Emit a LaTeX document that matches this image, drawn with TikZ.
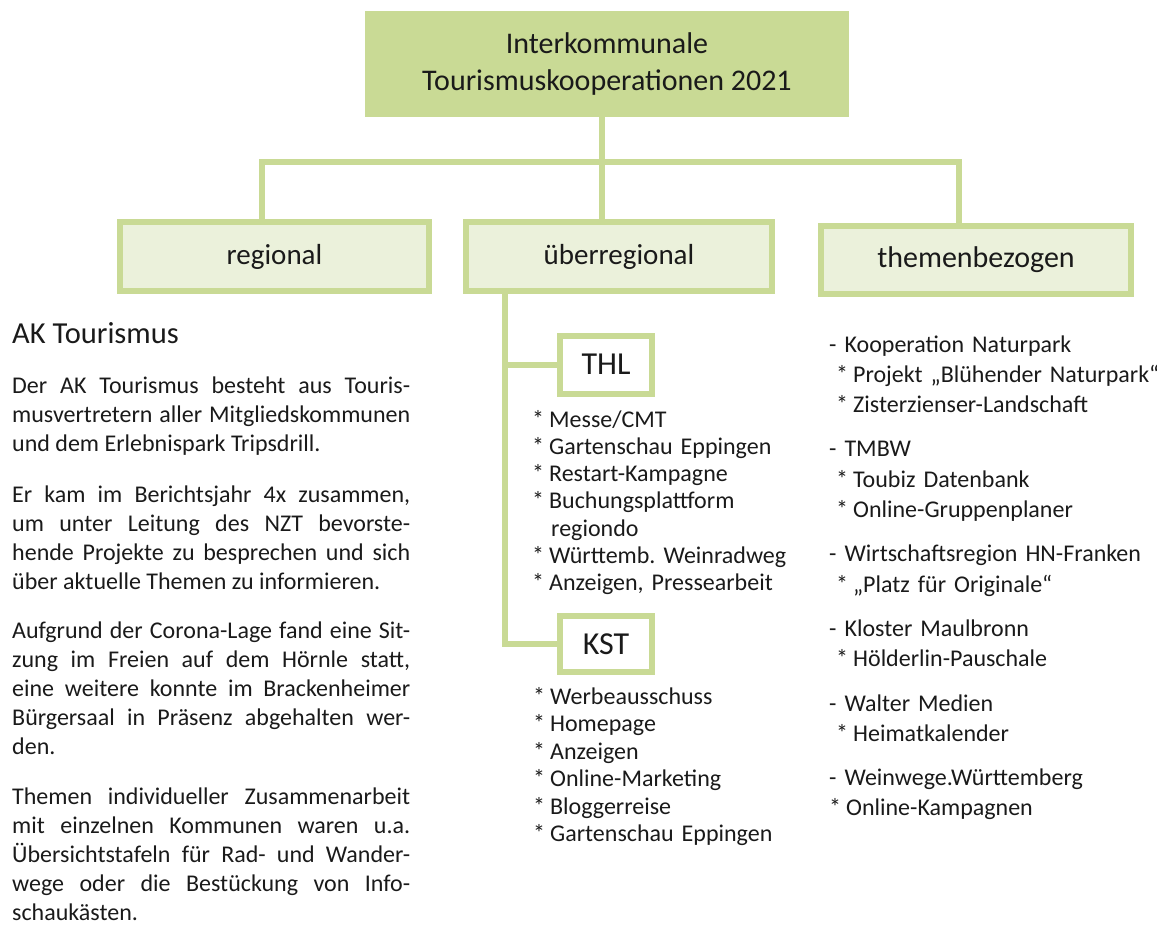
\documentclass[tikz,border=0pt]{standalone}
\usepackage{fontspec}
\setmainfont{Carlito}
\usepackage{tikz}
\definecolor{leaf}{HTML}{C9DA95}
\definecolor{leafpale}{HTML}{EBF1DB}
\definecolor{ink}{HTML}{1A1A1A}
\newcommand{\stern}{*\kern5pt}
\frenchspacing
\tikzset{
  head/.style={fill=leaf, minimum width=484pt, minimum height=106pt, align=center, font=\fontsize{30}{37}\selectfont, text=ink},
  tier/.style={draw=leaf, fill=leafpale, line width=6pt, minimum width=309pt, minimum height=69pt, inner sep=0pt, font=\fontsize{29}{34}\selectfont, text=ink},
  tag/.style={draw=leaf, fill=white, line width=6pt, minimum width=92pt, minimum height=58pt, inner sep=0pt, font=\fontsize{32}{38}\selectfont, text=ink},
  link/.style={draw=leaf, line width=6pt},
  txt/.style={anchor=base west, inner sep=0pt, text=ink, align=left},
  para/.style={txt, text width=398pt, align=justify, font=\fontsize{24}{29.2}\selectfont},
}

\begin{document}
\begin{tikzpicture}[x=1pt, y=-1pt]
  \useasboundingbox (0,0) rectangle (1157,929);
  % boxes
  \node[head] (top) at (607,64) {Interkommunale\\Tourismuskooperationen 2021};
  \node[tier] (reg) at (274.5,256.5) {regional};
  \node[tier, minimum width=306pt] (ueber) at (619,256.5) {überregional};
  \node[tier, minimum width=310pt, minimum height=68pt, font=\fontsize{30}{34}\selectfont] (them) at (976,260) {themenbezogen};
  \node[tag] (thl) at (606,364.5) {THL};
  \node[tag, minimum height=56pt] (kst) at (606,644) {KST};

  % connectors
  \coordinate (trunk) at (602,161.5);
  \coordinate (regdrop) at (262,161.5);
  \coordinate (themdrop) at (959,161.5);
  \coordinate (spine) at (505,0);
  \draw[link] (trunk |- top.south) -- (trunk |- ueber.north);
  \draw[link] (regdrop |- reg.north) -- (regdrop) -- (themdrop) -- (themdrop |- them.north);
  \draw[link] (spine |- ueber.south) |- (kst.west);
  \draw[link] (spine |- thl.west) -- (thl.west);

  % regional
  \node[txt, font=\fontsize{30.5}{36}\selectfont] (akhead) at (12,343) {AK Tourismus};
  \node[para] (ak1) at (12,393) {Der AK Tourismus besteht aus Touris-\linebreak musvertretern aller Mitgliedskommunen\linebreak und dem Erlebnispark Tripsdrill.};
  \node[para] (ak2) at (12,502) {Er kam im Berichtsjahr 4x zusammen,\linebreak um unter Leitung des NZT bevorste-\linebreak hende Projekte zu besprechen und sich\linebreak über aktuelle Themen zu informieren.};
  \node[para] (ak3) at (12,638) {Aufgrund der Corona-Lage fand eine Sit-\linebreak zung im Freien auf dem Hörnle statt,\linebreak eine weitere konnte im Brackenheimer\linebreak Bürgersaal in Präsenz abgehalten wer-\linebreak den.};
  \node[para] (ak4) at (12,804) {Themen individueller Zusammenarbeit\linebreak mit einzelnen Kommunen waren u.a.\linebreak Übersichtstafeln für Rad- und Wander-\linebreak wege oder die Bestückung von Info-\linebreak schaukästen.};

  % ueberregional
  \node[txt, text width=320pt, font=\fontsize{24}{27.3}\selectfont] (thllist) at (532,427)
    {\stern Messe/CMT\\ \stern Gartenschau Eppingen\\ \stern Restart-Kampagne\\ \stern Buchungsplattform\\ \hspace*{19pt}regiondo\\ \stern Württemb. Weinradweg\\ \stern Anzeigen, Pressearbeit};
  \node[txt, text width=320pt, font=\fontsize{24}{27.5}\selectfont] (kstlist) at (533,704)
    {\stern Werbeausschuss\\ \stern Homepage\\ \stern Anzeigen\\ \stern Online-Marketing\\ \stern Bloggerreise\\ \stern Gartenschau Eppingen};

  % themenbezogen
  \node[txt, text width=400pt, font=\fontsize{24}{30.3}\selectfont] (themlist) at (829,352)
    {- Kooperation Naturpark\\ \hspace*{7pt}\stern Projekt „Blühender Naturpark“\\ \hspace*{7pt}\stern Zisterzienser-Landschaft\\[14pt]
     - TMBW\\ \hspace*{7pt}\stern Toubiz Datenbank\\ \hspace*{7pt}\stern Online-Gruppenplaner\\[14pt]
     - Wirtschaftsregion HN-Franken\\ \hspace*{7pt}\stern „Platz für Originale“\\[14pt]
     - Kloster Maulbronn\\ \hspace*{7pt}\stern Hölderlin-Pauschale\\[14pt]
     - Walter Medien\\ \hspace*{7pt}\stern Heimatkalender\\[14pt]
     - Weinwege.Württemberg\\ \stern Online-Kampagnen};
\end{tikzpicture}
\end{document}
